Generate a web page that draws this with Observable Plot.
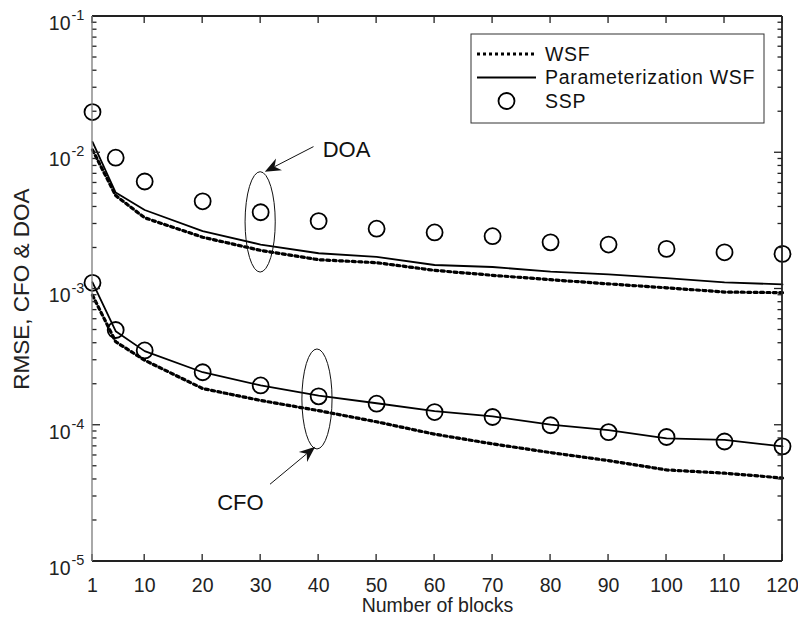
<!DOCTYPE html>
<html>
<head>
<meta charset="utf-8">
<script src="https://cdn.jsdelivr.net/npm/d3@7"></script>
<script src="https://cdn.jsdelivr.net/npm/@observablehq/plot@0.6"></script>
<style>
  html, body { margin: 0; padding: 0; background: #fff; }
  #chart svg { display: block; }
</style>
</head>
<body>
<div id="chart"></div>
<script>
// ---- data ----
const blocks = [1, 5, 10, 20, 30, 40, 50, 60, 70, 80, 90, 100, 110, 120];
const doaWSF   = [0.0105, 0.00485, 0.00333, 0.0024, 0.00192, 0.00164, 0.00156, 0.00137, 0.00126, 0.00117, 0.00109, 0.00102, 0.00095, 0.00094];
const doaParam = [0.012, 0.0051, 0.0038, 0.00266, 0.00212, 0.00183, 0.00172, 0.0015, 0.00145, 0.00134, 0.00128, 0.0012, 0.00112, 0.00108];
const doaSSP   = [0.0199, 0.0092, 0.00615, 0.0044, 0.00366, 0.00315, 0.00277, 0.0026, 0.00244, 0.0022, 0.00212, 0.00197, 0.00186, 0.00181];
const cfoWSF   = [0.0009, 0.00041, 0.0003, 0.000186, 0.000152, 0.000128, 0.000106, 0.000086, 0.000073, 0.000063, 0.000055, 0.000047, 0.0000445, 0.000041];
const cfoParam = [0.00112, 0.00049, 0.00035, 0.000245, 0.000196, 0.000165, 0.000145, 0.000127, 0.000116, 0.000101, 0.000092, 0.00008, 0.000078, 0.00007];
const cfoSSP   = [0.00111, 0.0005, 0.000354, 0.000245, 0.000196, 0.000163, 0.000144, 0.000125, 0.000115, 0.0001, 0.000089, 0.000082, 0.000076, 0.00007];

const xTicks = [1, 10, 20, 30, 40, 50, 60, 70, 80, 90, 100, 110, 120];
const yDecades = [1e-5, 1e-4, 1e-3, 1e-2, 1e-1];
const yExponents = ["-5", "-4", "-3", "-2", "-1"];
const yMinor = [];
for (let e = -5; e < -1; e++) for (let m = 2; m <= 9; m++) yMinor.push(m * Math.pow(10, e));

const legendLabels = ["WSF", "Parameterization WSF", "SSP"];
const xLabel = "Number of blocks";
const yLabel = "RMSE, CFO & DOA";

// annotations in data coordinates
const ellipses = [
  {x1: 27.4, x2: 32.6, y1: 0.00132, y2: 0.0072},
  {x1: 37.2, x2: 42.4, y1: 0.0000664, y2: 0.00036}
];
const arrows = [
  {x1: 39.2, y1: 0.011, x2: 30.8, y2: 0.0072},
  {x1: 31.7, y1: 0.0000366, x2: 39.5, y2: 0.000069}
];
const notes = [
  {x: 40.7, y: 0.0104, text: "DOA"},
  {x: 22.5, y: 0.0000268, text: "CFO"}
];

// ---- tables ----
const rows = (ys, curve) => blocks.map((b, i) => ({x: b, y: ys[i], curve}));
const wsfRows = [...rows(doaWSF, "doa"), ...rows(cfoWSF, "cfo")];
const paramRows = [...rows(doaParam, "doa"), ...rows(cfoParam, "cfo")];
const sspRows = [...rows(doaSSP, "doa"), ...rows(cfoSSP, "cfo")];

const FONT = "'Liberation Sans', Arial, Helvetica, sans-serif";
const INK = "#222";

function svgEl(tag) { return document.createElementNS("http://www.w3.org/2000/svg", tag); }

// frame + inward ticks
function axesFrame(index, scales, values, dims) {
  const {x, y} = scales;
  const L = dims.marginLeft, R = dims.width - dims.marginRight;
  const T = dims.marginTop, B = dims.height - dims.marginBottom;
  const g = d3.select(svgEl("g"));
  const tk = g.append("g").attr("stroke", INK).attr("stroke-width", 1.3);
  for (const t of xTicks) {
    const px = x(t);
    tk.append("line").attr("x1", px).attr("x2", px).attr("y1", B).attr("y2", B - 7);
    tk.append("line").attr("x1", px).attr("x2", px).attr("y1", T).attr("y2", T + 7);
  }
  for (const t of yDecades) {
    const py = y(t);
    tk.append("line").attr("x1", L).attr("x2", L + 8).attr("y1", py).attr("y2", py);
    tk.append("line").attr("x1", R).attr("x2", R - 8).attr("y1", py).attr("y2", py);
  }
  for (const t of yMinor) {
    const py = y(t);
    tk.append("line").attr("x1", L).attr("x2", L + 4.5).attr("y1", py).attr("y2", py);
    tk.append("line").attr("x1", R).attr("x2", R - 4.5).attr("y1", py).attr("y2", py);
  }
  g.append("line").attr("x1", L).attr("x2", R).attr("y1", B).attr("y2", B).attr("stroke", INK).attr("stroke-width", 1.8);
  g.append("line").attr("x1", L).attr("x2", R).attr("y1", T).attr("y2", T).attr("stroke", INK).attr("stroke-width", 1.8);
  g.append("line").attr("x1", R).attr("x2", R).attr("y1", T).attr("y2", B).attr("stroke", INK).attr("stroke-width", 1.8);
  g.append("line").attr("x1", L).attr("x2", L).attr("y1", T).attr("y2", B).attr("stroke", "#7a7a7a").attr("stroke-width", 1.3);
  return g.node();
}

// ellipses and arrows
function annotations(index, scales) {
  const {x, y} = scales;
  const g = d3.select(svgEl("g")).attr("fill", "none").attr("stroke", "#111").attr("stroke-width", 1);
  for (const e of ellipses) {
    const cx = (x(e.x1) + x(e.x2)) / 2, cy = (y(e.y1) + y(e.y2)) / 2;
    g.append("ellipse").attr("cx", cx).attr("cy", cy)
      .attr("rx", Math.abs(x(e.x2) - x(e.x1)) / 2).attr("ry", Math.abs(y(e.y2) - y(e.y1)) / 2);
  }
  for (const a of arrows) {
    const sx = x(a.x1), sy = y(a.y1), tx = x(a.x2), ty = y(a.y2);
    const len = Math.hypot(tx - sx, ty - sy);
    const ux = (tx - sx) / len, uy = (ty - sy) / len, nx = -uy, ny = ux;
    const HL = 16, HW = 6.5, NOTCH = 5;
    const bx = tx - (HL - NOTCH) * ux, by = ty - (HL - NOTCH) * uy;
    g.append("line").attr("x1", sx).attr("y1", sy).attr("x2", bx).attr("y2", by);
    const p = [
      [tx, ty],
      [tx - HL * ux + HW * nx, ty - HL * uy + HW * ny],
      [bx, by],
      [tx - HL * ux - HW * nx, ty - HL * uy - HW * ny]
    ];
    g.append("path").attr("d", "M" + p.map(q => q.join(",")).join("L") + "Z").attr("fill", "#111").attr("stroke", "none");
  }
  return g.node();
}

// legend box (top-right, inside frame)
function legend(index, scales, values, dims) {
  const R = dims.width - dims.marginRight, T = dims.marginTop;
  const bx = R - 311, by = T + 18, bw = 293, bh = 89;
  const g = d3.select(svgEl("g"));
  g.append("rect").attr("x", bx).attr("y", by).attr("width", bw).attr("height", bh)
    .attr("fill", "white").attr("stroke", "#333").attr("stroke-width", 1);
  const ys = [by + 20, by + 43.5, by + 67];
  const lx1 = bx + 6, lx2 = bx + 65, tx = bx + 74;
  g.append("line").attr("x1", lx1).attr("x2", lx2).attr("y1", ys[0]).attr("y2", ys[0])
    .attr("stroke", "black").attr("stroke-width", 3.2).attr("stroke-dasharray", "3,3");
  g.append("line").attr("x1", lx1).attr("x2", lx2).attr("y1", ys[1]).attr("y2", ys[1])
    .attr("stroke", "black").attr("stroke-width", 1.8);
  g.append("circle").attr("cx", (lx1 + lx2) / 2).attr("cy", ys[2]).attr("r", 8)
    .attr("fill", "none").attr("stroke", "black").attr("stroke-width", 1.8);
  legendLabels.forEach((s, i) => {
    g.append("text").attr("x", tx).attr("y", ys[i]).attr("dy", "0.35em")
      .attr("text-anchor", "start")
      .attr("font-family", FONT).attr("font-size", 19.5).attr("letter-spacing", 0.7)
      .attr("fill", "#111").text(s);
  });
  return g.node();
}

const chart = Plot.plot({
  width: 798,
  height: 629,
  marginLeft: 92,
  marginRight: 16,
  marginTop: 16,
  marginBottom: 68,
  style: {fontFamily: FONT, background: "white", overflow: "visible"},
  x: {domain: [1, 120], axis: null},
  y: {type: "log", domain: [1e-5, 1e-1], axis: null},
  marks: [
    Plot.line(wsfRows, {x: "x", y: "y", z: "curve", stroke: "black", strokeWidth: 3.2, strokeDasharray: "3,3.4"}),
    Plot.line(paramRows, {x: "x", y: "y", z: "curve", stroke: "black", strokeWidth: 1.8}),
    Plot.dot(sspRows, {x: "x", y: "y", r: 8, stroke: "black", strokeWidth: 1.8, fill: "none"}),
    annotations,
    Plot.text(notes, {x: "x", y: "y", text: "text", textAnchor: "start", fontSize: 22, fill: "#111"}),
    axesFrame,
    legend,
    // x tick labels
    Plot.text(xTicks, {x: d => d, frameAnchor: "bottom", lineAnchor: "middle", dy: 24, text: d => String(d), textAnchor: "middle", fontSize: 19.5, fill: INK, letterSpacing: 0.3}),
    // y tick labels: base + exponent
    Plot.text(yDecades, {y: d => d, frameAnchor: "left", lineAnchor: "middle", dx: -22, dy: 7, text: () => "10", textAnchor: "end", fontSize: 19.5, fill: INK, letterSpacing: 0.3}),
    Plot.text(yDecades, {y: d => d, frameAnchor: "left", lineAnchor: "middle", dx: -21, dy: -1, text: (d, i) => yExponents[i], textAnchor: "start", fontSize: 14.5, fill: INK}),
    // axis titles
    Plot.text([xLabel], {frameAnchor: "bottom", lineAnchor: "middle", dy: 44, text: d => d, textAnchor: "middle", fontSize: 19.5, fill: INK}),
    Plot.text([yLabel], {frameAnchor: "left", lineAnchor: "middle", dx: -71, rotate: -90, text: d => d, textAnchor: "middle", fontSize: 22.5, fill: INK, letterSpacing: 0.6})
  ]
});
document.getElementById("chart").appendChild(chart);
</script>
</body>
</html>
